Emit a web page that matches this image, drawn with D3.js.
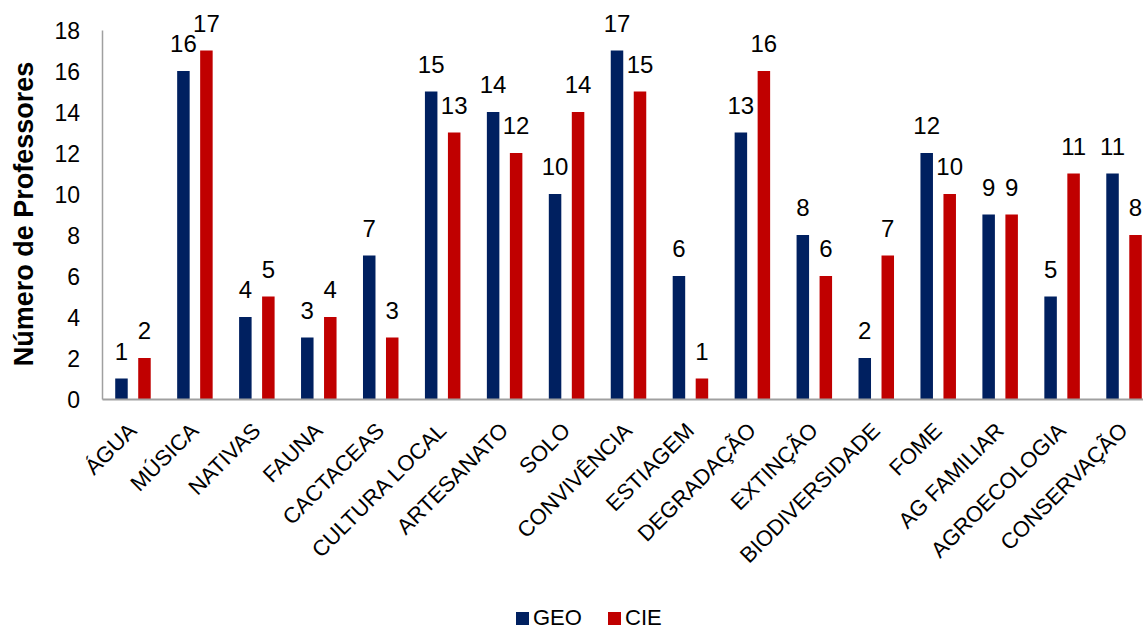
<!DOCTYPE html>
<html><head><meta charset="utf-8">
<script src="https://cdn.jsdelivr.net/npm/d3@7"></script>
<style>body{margin:0;background:#fff}svg{display:block;font-family:"Liberation Sans",Arial,sans-serif}</style>
</head><body>
<svg id="c" width="1143" height="630"></svg>
<script>
const categories = ["ÁGUA","MÚSICA","NATIVAS","FAUNA","CACTACEAS","CULTURA LOCAL","ARTESANATO","SOLO","CONVIVÊNCIA","ESTIAGEM","DEGRADAÇÃO","EXTINÇÃO","BIODIVERSIDADE","FOME","AG FAMILIAR","AGROECOLOGIA","CONSERVAÇÃO"];
const geo = [1,16,4,3,7,15,14,10,17,6,13,8,2,12,9,5,11];
const cie = [2,17,5,4,3,13,12,14,15,1,16,6,7,10,9,11,8];
const seriesNames = ["GEO","CIE"];
const colors = ["#002060","#C00000"];
const yTicks = [0,2,4,6,8,10,12,14,16,18];

(function(){
const svg = d3.select("#c");
const FF = "Liberation Sans, Arial, sans-serif";
const mL = 102, mR = 1155, mT = 30, mB = 399;
const x = d3.scaleBand().domain(categories).range([mL, mR]);
const y = d3.scaleLinear().domain([0,18]).range([mB, mT]);
const bw = 12.5, off = 11.5;

const g = svg.append("g");
const series = [geo, cie];
series.forEach((vals, si) => {
  const dx = si === 0 ? -off : off;
  g.selectAll(null).data(vals).enter().append("rect")
    .attr("x", (d,i) => x(categories[i]) + x.bandwidth()/2 + dx - bw/2)
    .attr("y", d => y(d))
    .attr("width", bw)
    .attr("height", d => mB - y(d))
    .attr("fill", colors[si]);
  g.selectAll(null).data(vals).enter().append("text")
    .attr("x", (d,i) => x(categories[i]) + x.bandwidth()/2 + dx)
    .attr("y", d => y(d) - 19)
    .attr("text-anchor", "middle")
    .attr("font-size", 24)
    .attr("font-family", FF)
    .attr("fill", "#000")
    .text(d => d);
});

const yAxis = d3.axisLeft(y).tickValues(yTicks).tickSize(0).tickPadding(0);
const ya = svg.append("g").attr("transform", `translate(${mL},0)`).call(yAxis);
ya.attr("font-size", null).attr("font-family", null);
ya.select(".domain").attr("stroke", "#a0a0a0").attr("stroke-width", 1.5);
ya.selectAll("text").attr("font-size", 23).attr("fill", "#000").attr("x", -22).attr("dy", "0.36em")
  .attr("font-family", FF);

const xAxis = d3.axisBottom(x).tickSize(0).tickFormat(d => d);
const xa = svg.append("g").attr("transform", `translate(0,${mB})`).call(xAxis);
xa.attr("font-size", null).attr("font-family", null);
xa.select(".domain").attr("stroke", "#a0a0a0").attr("stroke-width", 2);
xa.selectAll("text")
  .attr("font-size", 22).attr("fill", "#000")
  .attr("font-family", FF)
  .attr("text-anchor", "end")
  .attr("x", 0).attr("y", 0).attr("dy", 0)
  .attr("transform", "translate(5,33) rotate(-45)");

svg.append("text")
  .attr("transform", "translate(33,214) rotate(-90)")
  .attr("text-anchor", "middle")
  .attr("font-size", 27).attr("font-weight", "bold")
  .attr("font-family", FF)
  .text("Número de Professores");

const leg = svg.append("g");
const legX = [516, 608];
seriesNames.forEach((n, i) => {
  leg.append("rect").attr("x", legX[i]).attr("y", 612).attr("width", 13).attr("height", 13).attr("fill", colors[i]);
  leg.append("text").attr("x", legX[i] + 17).attr("y", 625).attr("font-size", 22)
    .attr("font-family", FF).text(n);
});
})();
</script>
</body></html>
